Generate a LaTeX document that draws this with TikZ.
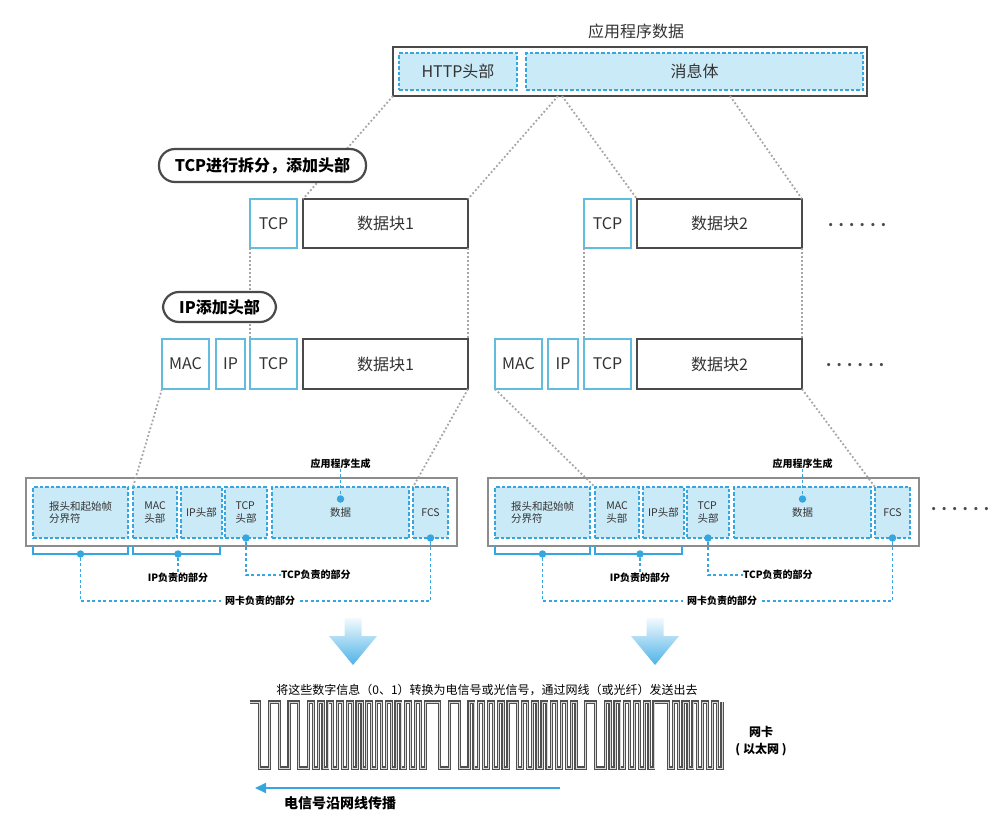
\documentclass[tikz,border=0pt]{standalone}
\usepackage{fontspec}
\setmainfont{Noto Sans CJK SC}
\usetikzlibrary{arrows.meta}
\definecolor{dblue}{HTML}{35A6DF}
\definecolor{lblue}{HTML}{CBEAF7}
\definecolor{hblue}{HTML}{62BCDD}
\definecolor{dgray}{HTML}{4A4A4A}
\definecolor{tgray}{HTML}{333333}
\definecolor{dotgray}{HTML}{A5A5A5}
\definecolor{fgray}{HTML}{8C8C8C}
\definecolor{wavegray}{HTML}{505050}
\definecolor{waveinner}{HTML}{D8D8D8}
\definecolor{arrowblue}{HTML}{4DB2E6}
\definecolor{arrowtop}{HTML}{F2FAFE}
\newcommand{\sixdots}{.\hspace{5.3pt}.\hspace{5.3pt}.\hspace{5.3pt}.\hspace{5.3pt}.\hspace{5.3pt}.}
\begin{document}
\begin{tikzpicture}[x=1pt,y=-1pt,
  every node/.style={inner sep=0pt,outer sep=0pt,text=tgray},
  f16/.style={font=\fontsize{16}{19}\selectfont},
  f10/.style={font=\fontsize{10.5}{12.5}\selectfont},
  lab/.style={font=\bfseries\fontsize{10}{12}\selectfont,text=black},
  hdrbox/.style={draw=hblue,line width=1.2pt,fill=white,minimum height=49,f16},
  databox/.style={draw=dgray,line width=1.3pt,fill=white,minimum height=49,f16},
  dashbox/.style={draw=dblue,fill=lblue,line width=1.4pt,dash pattern=on 3.5pt off 2pt,f10,align=left},
  frame/.style={draw=fgray,line width=1.4pt,fill=white,minimum width=431,minimum height=68},
  dotline/.style={draw=dotgray,line width=1.8pt,dash pattern=on 1.8pt off 2.2pt},
  bubble/.style={draw=dgray,line width=2.2pt,fill=white,rounded corners=16pt,font=\bfseries\fontsize{16}{19}\selectfont,text=black},
  bullet/.style={circle,fill=dblue,minimum size=7.5,inner sep=0pt},
  annot/.style={draw=dblue,line width=1.3pt,dash pattern=on 3pt off 2.5pt},
  bracket/.style={draw=dblue,line width=1.5pt},
  wave/.style={draw=wavegray,line width=1.3pt,double=waveinner,double distance=0.6pt,line join=miter},
  moredots/.style={font=\bfseries\fontsize{15}{18}\selectfont,text=dgray,anchor=base west},
]
\useasboundingbox (0,0) rectangle (1007,817);

% ---------- application data ----------
\node[f16] (title) at (636,31) {应用程序数据};
\node[draw=dgray,line width=1.4pt,fill=white,minimum width=474,minimum height=49] (top) at (630,71.5) {};
\node[dashbox,f16,minimum width=118,minimum height=37] (http) at (458,71.5) {HTTP头部};
\node[dashbox,f16,minimum width=337,minimum height=37] (body) at (694.5,71.5) {消息体};
\coordinate (m1) at (558,96);
\coordinate (m2) at (562,96);
\coordinate (m3) at (730,96);

% ---------- TCP layer ----------
\node[hdrbox,minimum width=47] (tcp1) at (273.5,223.5) {TCP};
\node[databox,minimum width=165] (d1) at (385.5,223.5) {数据块1};
\node[hdrbox,minimum width=47] (tcp2) at (607.5,223.5) {TCP};
\node[databox,minimum width=165] (d2) at (719.5,223.5) {数据块2};
\node[moredots] (more1) at (828,226) {\sixdots};

% ---------- IP layer ----------
\node[hdrbox,minimum width=47,minimum height=50] (mac1) at (185.5,364) {MAC};
\node[hdrbox,minimum width=29,minimum height=50] (ip1) at (230.5,364) {IP};
\node[hdrbox,minimum width=47,minimum height=50] (tcp1b) at (273.5,364) {TCP};
\node[databox,minimum width=165,minimum height=50] (d1b) at (385.5,364) {数据块1};
\node[hdrbox,minimum width=47,minimum height=50] (mac2) at (518.5,364) {MAC};
\node[hdrbox,minimum width=30,minimum height=50] (ip2) at (563,364) {IP};
\node[hdrbox,minimum width=47,minimum height=50] (tcp2b) at (607.5,364) {TCP};
\node[databox,minimum width=165,minimum height=50] (d2b) at (719.5,364) {数据块2};
\node[moredots] (more2) at (826,366) {\sixdots};

% ---------- frames ----------
\foreach \o/\s in {0/a,462/b}{
  \node[frame] (fr\s) at (\o+241.5,512) {};
  \node[dashbox,minimum width=95,minimum height=51] (pre\s) at (\o+80.5,512.5) {报头和起始帧\\分界符};
  \node[dashbox,minimum width=44,minimum height=51] (mac\s) at (\o+155,512.5) {MAC\\头部};
  \node[dashbox,minimum width=41,minimum height=51] (ip\s) at (\o+201.5,512.5) {IP头部};
  \node[dashbox,minimum width=42,minimum height=51] (tcp\s) at (\o+246,512.5) {TCP\\头部};
  \node[dashbox,minimum width=137,minimum height=51] (dat\s) at (\o+340.5,512.5) {数据};
  \node[dashbox,minimum width=35,minimum height=51] (fcs\s) at (\o+430.5,512.5) {FCS};
  % application-generated
  \node[lab] (gen\s) at (\o+340.5,464) {应用程序生成};
  \node[bullet] (gd\s) at (\o+340.5,499) {};
  \draw[annot] (gen\s.south) -- (gd\s);
  % brackets
  \coordinate (ba1\s) at (\o+33,546);
  \coordinate (ba2\s) at (\o+128,546);
  \coordinate (bb1\s) at (\o+133,546);
  \coordinate (bb2\s) at (\o+220,546);
  \draw[bracket] (ba1\s) -- ++(0,8) -| (ba2\s);
  \draw[bracket] (bb1\s) -- ++(0,8) -| (bb2\s);
  \node[bullet] (nd\s) at (\o+80.5,554) {};
  \node[bullet] (id\s) at (\o+178,554) {};
  \node[bullet] (td\s) at (tcp\s.south) {};
  \node[bullet] (fd\s) at (fcs\s.south) {};
  % labels
  \node[lab,fill=white,inner xsep=3pt] (ipl\s) at (\o+178,578) {IP负责的部分};
  \node[lab,anchor=west] (tcpl\s) at (\o+281,575) {TCP负责的部分};
  \node[lab,fill=white,inner xsep=4pt,inner ysep=1pt] (nic\s) at (\o+260,601) {网卡负责的部分};
  \draw[annot] (id\s) -- (ipl\s.north);
  \draw[annot] (td\s) |- (tcpl\s.west);
  \draw[annot] (nd\s) |- (nic\s.west);
  \draw[annot] (fd\s) |- (nic\s.east);
}
\node[moredots] (more3) at (931,510) {\sixdots};

% ---------- dotted guide lines ----------
\draw[dotline] (top.south west) -- (d1.north west);
\draw[dotline] (m1) -- (d1.north east);
\draw[dotline] (m2) -- (d2.north west);
\draw[dotline] (m3) -- (d2.north east);
\draw[dotline] (tcp1.south west) -- (tcp1b.north west);
\draw[dotline] (d1.south east) -- (d1b.north east);
\draw[dotline] (tcp2.south west) -- (tcp2b.north west);
\draw[dotline] (d2.south east) -- (d2b.north east);
\draw[dotline] (mac1.south west) -- (maca.north west);
\draw[dotline] (d1b.south east) -- (fcsa.north west);
\draw[dotline] (mac2.south west) -- (macb.north west);
\draw[dotline] (d2b.south east) -- (fcsb.north west);

% ---------- bubbles ----------
\node[bubble,minimum width=207,minimum height=33] (bub1) at (262.5,165.5) {TCP进行拆分，添加头部};
\node[bubble,minimum width=113,minimum height=30] (bub2) at (219.5,307) {IP添加头部};

% ---------- big arrows ----------
\foreach \c in {353,655}{
  \shade[top color=arrowtop,bottom color=arrowblue]
    (\c-8.5,618) -- (\c+8.5,618) -- (\c+8.5,636) -- (\c+24,636) -- (\c,665)
    -- (\c-24,636) -- (\c-8.5,636) -- cycle;
}

% ---------- signal ----------
\node[font=\fontsize{12}{14}\selectfont,text=black] (conv) at (487,690) {将这些数字信息（0、1）转换为电信号或光信号，通过网线（或光纤）发送出去};
\def\u{4.866}
\draw[wave] (250,702) \foreach \h/\l in {2/2,2/2,2/2,
  1/1,1/1,1/1,1/1,1/1,1/1,1/1,1/1,1/1,1/1,1/1,1/1,
  3/2,2/2,
  1/1,1/1,1/1,1/1,
  2/1,1/1,1/1,1/1,1/1,1/1,1/2,2/2,
  1/1,1/1,1/1,1/1,1/1,3/1,
  1/1,1/1,1/1,1/1,1/1}{
  -- ++(\h*\u,0) -- ++(0,66) -- ++(\l*\u,0) -- ++(0,-66)};
\node[font=\bfseries\fontsize{12}{17}\selectfont,text=black,align=center] (nic) at (761,741) {网卡\\( 以太网 )};
\coordinate (sigS) at (560,788);
\coordinate (sigE) at (255,788);
\draw[draw=dblue,line width=1.8pt,-{Triangle[length=11pt,width=10pt]}] (sigS) -- (sigE);
\node[font=\bfseries\fontsize{14}{16}\selectfont,text=black] (prop) at (340,803) {电信号沿网线传播};
\end{tikzpicture}
\end{document}
